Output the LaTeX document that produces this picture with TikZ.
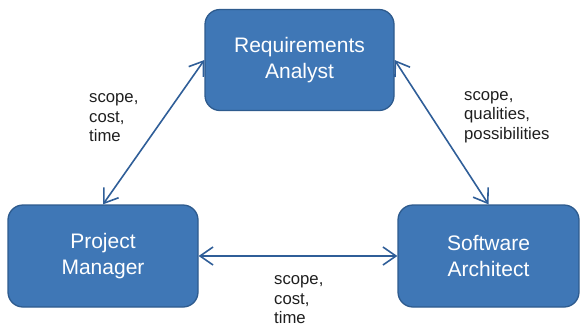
\documentclass[tikz,border=0pt]{standalone}
\usepackage{fontspec}
\setmainfont{Liberation Sans}
\usetikzlibrary{arrows.meta}
\definecolor{boxfill}{HTML}{3F77B6}
\definecolor{boxline}{HTML}{2E5B8E}
\definecolor{arrowcol}{HTML}{2F5E98}
\definecolor{labelcol}{HTML}{1E1E1E}
\begin{document}
\begin{tikzpicture}[x=1pt,y=-1pt,
  rolebox/.style={draw=boxline, line width=1.3pt, fill=boxfill, rounded corners=15pt,
    text=white, align=center, inner sep=0pt,
    font=\fontsize{21}{25.5}\selectfont},
  link/.style={draw=arrowcol, line width=1.6pt,
    {Straight Barb[length=13pt,width=18pt,line width=1.6pt]}-{Straight Barb[length=13pt,width=18pt,line width=1.6pt]}},
  lbl/.style={anchor=west, align=left, inner sep=0pt, text=labelcol,
    font=\fontsize{16.7}{19.5}\selectfont}]
\useasboundingbox (0,0) rectangle (580,325);
\clip (0,0) rectangle (580,325);
\node[rolebox, minimum width=189pt, minimum height=101pt] (RA) at (299.5,60) {Requirements\\Analyst};
\node[rolebox, minimum width=190pt, minimum height=102pt] (PM) at (103,256) {Project\\Manager};
\node[rolebox, minimum width=181pt, minimum height=102pt] (SA) at (488.5,256) {Software\\Architect};
\draw[link] (RA.west) -- (PM.north);
\draw[link] (RA.east) -- (SA.north);
\draw[link] (PM.east) -- (SA.west);
\node[lbl] (L1) at (89,118) {scope,\\cost,\\time};
\node[lbl] (L2) at (464,117) {scope,\\qualities,\\possibilities};
\node[lbl] (L3) at (274,300) {scope,\\cost,\\time};
\end{tikzpicture}
\end{document}
